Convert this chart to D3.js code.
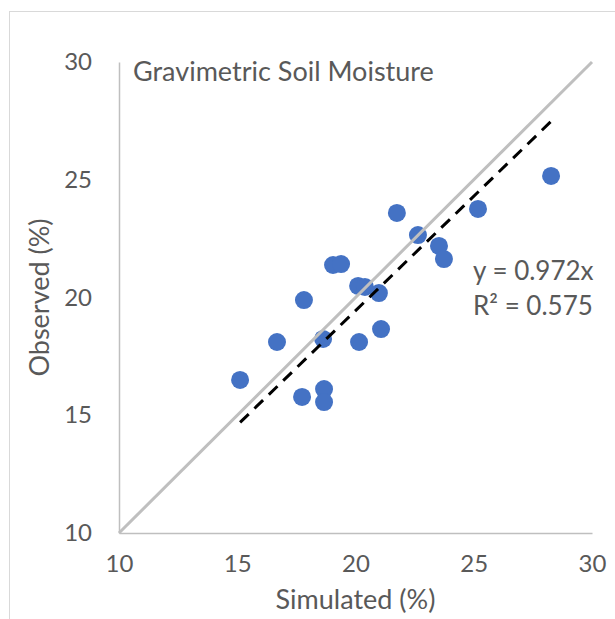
<!DOCTYPE html>
<html>
<head>
<meta charset="utf-8">
<script src="https://cdn.jsdelivr.net/npm/d3@7"></script>
<style>
  html, body { margin: 0; padding: 0; background: #fff; }
  svg { display: block; font-family: Lato, "Open Sans", sans-serif; }
</style>
</head>
<body>
<div id="chart"></div>
<script>
// Simulated vs observed gravimetric soil moisture (%)
const simulated = [15.12, 16.68, 17.82, 17.74, 18.63, 18.67, 18.67, 19.05, 19.39, 20.15,
                   20.11, 20.40, 20.99, 21.08, 21.75, 22.64, 23.53, 23.74, 25.18, 28.27];
const observed  = [16.50, 18.11, 19.89, 15.78, 18.24, 16.11, 15.56, 21.38, 21.42, 18.11,
                   20.49, 20.45, 20.19, 18.66, 23.59, 22.65, 22.19, 21.63, 23.76, 25.16];
const ticks = [10, 15, 20, 25, 30];
const slope = 0.972;
const rSquared = 0.575;

const width = 615;
const height = 619;
const margin = { top: 62, right: 23, bottom: 86, left: 119 };

const svg = d3.select("#chart")
  .append("svg")
  .attr("width", width)
  .attr("height", height);

// chart frame
svg.append("rect")
  .attr("x", 9.5)
  .attr("y", 11.5)
  .attr("width", width + 20)
  .attr("height", height + 20)
  .attr("fill", "none")
  .attr("stroke", "#d9d9d9")
  .attr("stroke-width", 1);

const x = d3.scaleLinear().domain([10, 30]).range([margin.left, width - margin.right]);
const y = d3.scaleLinear().domain([10, 30]).range([height - margin.bottom, margin.top]);

// axes
const xAxis = svg.append("g")
  .attr("transform", `translate(0,${y(10)})`)
  .call(d3.axisBottom(x).tickValues(ticks).tickSize(0).tickPadding(22));
const yAxis = svg.append("g")
  .attr("transform", `translate(${x(10)},0)`)
  .call(d3.axisLeft(y).tickValues(ticks).tickSize(0).tickPadding(27));

[xAxis, yAxis].forEach(g => {
  g.select(".domain").attr("stroke", "#bfbfbf").attr("stroke-width", 1.5);
  g.selectAll("text")
    .attr("fill", "#595959")
    .style("font-size", "24px")
    .style("font-family", "Lato, 'Open Sans', sans-serif");
});

// points
const pts = simulated.map((s, i) => ({ s, o: observed[i] }));
svg.append("g")
  .selectAll("circle")
  .data(pts)
  .enter()
  .append("circle")
  .attr("cx", d => x(d.s))
  .attr("cy", d => y(d.o))
  .attr("r", 9)
  .attr("fill", "#4472c4");

// 1:1 line
svg.append("line")
  .attr("x1", x(10)).attr("y1", y(10))
  .attr("x2", x(30)).attr("y2", y(30))
  .attr("stroke", "#bfbfbf")
  .attr("stroke-width", 3);

// linear trend through origin, over the data range
const [sMin, sMax] = d3.extent(simulated);
svg.append("line")
  .attr("x1", x(sMin)).attr("y1", y(slope * sMin))
  .attr("x2", x(sMax)).attr("y2", y(slope * sMax))
  .attr("stroke", "#000")
  .attr("stroke-width", 3)
  .attr("stroke-dasharray", "12,8");

// title
svg.append("text")
  .attr("x", 133)
  .attr("y", 81)
  .attr("fill", "#595959")
  .style("font-size", "27px")
  .text("Gravimetric Soil Moisture");

// equation
const eq = svg.append("text")
  .attr("fill", "#595959")
  .style("font-size", "26px");
eq.append("tspan").attr("x", 473).attr("y", 280).text(`y = ${slope}x`);
eq.append("tspan").attr("x", 473).attr("y", 315).text(`R² = ${rSquared}`);

// axis titles
svg.append("text")
  .attr("x", (x(10) + x(30)) / 2)
  .attr("y", 609)
  .attr("text-anchor", "middle")
  .attr("fill", "#595959")
  .style("font-size", "27px")
  .text("Simulated (%)");

svg.append("text")
  .attr("transform", `translate(49,${(y(10) + y(30)) / 2}) rotate(-90)`)
  .attr("text-anchor", "middle")
  .attr("fill", "#595959")
  .style("font-size", "27px")
  .text("Observed (%)");
</script>
</body>
</html>
